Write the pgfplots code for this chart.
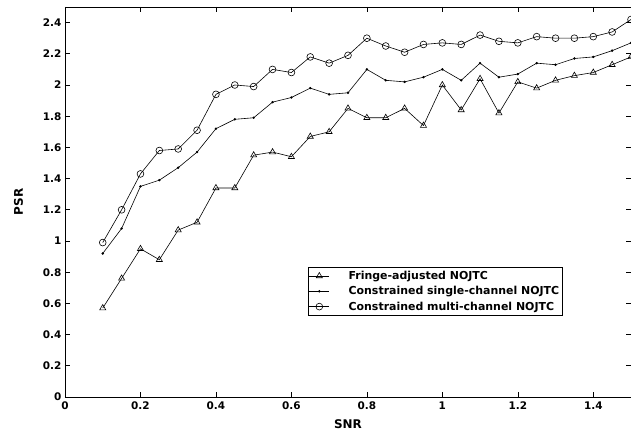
\documentclass[border=0pt]{standalone}
\usepackage{fontspec}
\setmainfont{DejaVu Sans}
\usepackage{pgfplots}
\pgfplotsset{compat=1.18}

% PSR against SNR for three NOJTC variants
\pgfplotstableread{
snr   fringe single multi
0.10  0.57   0.92   0.99
0.15  0.76   1.08   1.20
0.20  0.95   1.35   1.43
0.25  0.88   1.39   1.58
0.30  1.07   1.47   1.59
0.35  1.12   1.57   1.71
0.40  1.34   1.72   1.94
0.45  1.34   1.78   2.00
0.50  1.55   1.79   1.99
0.55  1.57   1.89   2.10
0.60  1.54   1.92   2.08
0.65  1.67   1.98   2.18
0.70  1.70   1.94   2.14
0.75  1.85   1.95   2.19
0.80  1.79   2.10   2.30
0.85  1.79   2.03   2.25
0.90  1.85   2.02   2.21
0.95  1.74   2.05   2.26
1.00  2.00   2.10   2.27
1.05  1.84   2.03   2.26
1.10  2.04   2.14   2.32
1.15  1.82   2.05   2.28
1.20  2.02   2.07   2.27
1.25  1.98   2.14   2.31
1.30  2.03   2.13   2.30
1.35  2.06   2.17   2.30
1.40  2.08   2.18   2.31
1.45  2.13   2.22   2.34
1.50  2.18   2.27   2.42
}\psrdata

\begin{document}
\begin{tikzpicture}
\begin{axis}[
    scale only axis,
    width=566bp, height=390bp,
    xmin=0, xmax=1.5,
    ymin=0, ymax=2.5,
    xtick={0,0.2,...,1.4},
    ytick={0,0.2,...,2.4},
    tick align=inside,
    major tick length=5bp,
    axis line style={line width=0.8bp},
    every tick/.style={black, line width=0.6bp},
    /pgf/number format/assume math mode=true,
    tick label style={font=\fontsize{10.5}{10.5}\selectfont\bfseries},
    xticklabel style={yshift=-1bp},
    xlabel={SNR}, ylabel={PSR},
    label style={font=\fontsize{12}{12}\selectfont\bfseries},
    xlabel style={at={(axis description cs:0.5,-0.069)}, anchor=center},
    ylabel style={at={(axis description cs:-0.082,0.5)}, anchor=center},
    legend cell align=left,
    legend style={
        at={(axis cs:0.643,0.832)}, anchor=north west,
        draw=black, line width=0.8bp,
        font=\fontsize{11}{11}\selectfont\bfseries,
        inner xsep=1bp, inner ysep=1.5bp,
        row sep=1.5bp,
    },
    legend image code/.code={
        \draw[#1, mark repeat=2, mark phase=2] plot coordinates {(0bp,0bp) (10bp,0bp) (20bp,0bp)};
        \path (37bp,0bp);
    },
    every axis plot/.append style={black, line width=0.6bp},
]
\coordinate (bl) at (rel axis cs:0,0);
\coordinate (tr) at (rel axis cs:1,1);
\addplot[mark=triangle, mark size=3.5bp, mark options={line width=0.6bp}] table[x=snr, y=fringe] {\psrdata};
\addlegendentry{Fringe-adjusted NOJTC}
\addplot[mark=*, mark size=0.9bp] table[x=snr, y=single] {\psrdata};
\addlegendentry{Constrained single-channel NOJTC}
\addplot[mark=o, mark size=3.4bp, mark options={line width=0.6bp}] table[x=snr, y=multi] {\psrdata};
\addlegendentry{Constrained multi-channel NOJTC}
\end{axis}
\pgfresetboundingbox
\path[use as bounding box] ([shift={(-65bp,-38bp)}]bl) rectangle ([shift={(0bp,7bp)}]tr);
\end{tikzpicture}
\end{document}
